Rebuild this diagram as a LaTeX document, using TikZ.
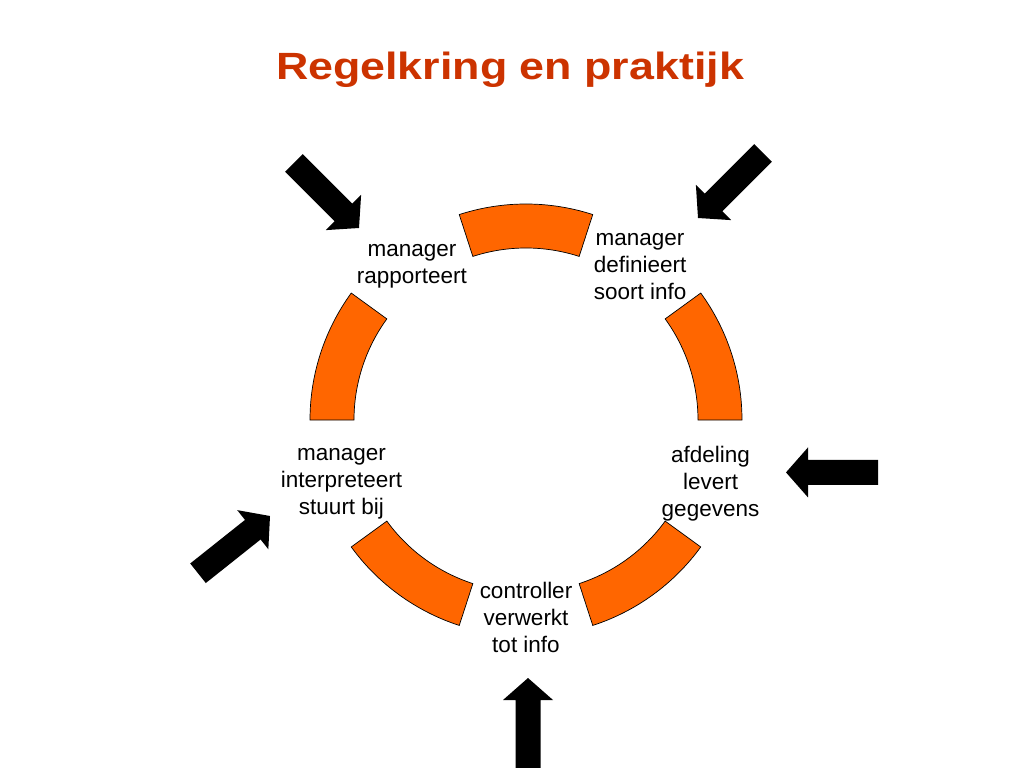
\documentclass[tikz,border=0pt]{standalone}
\usepackage{fontspec}
\setmainfont{Liberation Sans}
\newfontfamily\titlefont[FakeStretch=1.18]{Liberation Sans}
\usepackage{tikz}
\usetikzlibrary{positioning}
\usepackage{xcolor}
\definecolor{ringorange}{RGB}{255,102,  0}
\definecolor{titlered}  {RGB}{204, 51,  0}

\newcommand{\inarrow}[2]{%
  \fill[blockarrow, shift={#1}, rotate=#2] (0,0) -- (-0.55,0.625) -- (-0.55,0.3125) -- (-2.3,0.3125)
    -- (-2.3,-0.3125) -- (-0.55,-0.3125) -- (-0.55,-0.625) -- cycle;}

\begin{document}
\begin{tikzpicture}[
  every node/.style={align=center},
  title/.style={font=\titlefont\fontsize{27}{32}\selectfont\bfseries, text=titlered, anchor=base},
  lbl/.style={font=\fontsize{16}{19.3}\selectfont, inner sep=1pt, yshift=-0.09cm},
  segment/.style={draw=black, line width=0.5pt, fill=ringorange},
  blockarrow/.style={black}
]
  \useasboundingbox (0,0) rectangle (25.6,-19.2);
  \coordinate (c) at (13.15,-10.5);

  % Title
  \node (titel) [title] at (12.75,-2.0) {Regelkring en praktijk};

  % Ring segments
  \foreach \a in {0,72,...,288}
    \draw [segment] ([shift={(\a:5.4)}]c) arc[start angle=\a, end angle=\a+36, radius=5.4]
      -- ([shift={(\a+36:4.3)}]c) arc[start angle=\a+36, end angle=\a, radius=4.3] -- cycle;

  % Labels
  \node (def) [lbl] at ([shift={(54:4.85)}]c)  {manager\\definieert\\soort info};
  \node (rap) [lbl] at ([shift={(126:4.85)}]c) {manager\\rapporteert};
  \node (stu) [lbl] at ([shift={(198:4.85)}]c) {manager\\interpreteert\\stuurt bij};
  \node (ver) [lbl] at ([shift={(270:4.85)}]c) {controller\\verwerkt\\tot info};
  \node (lev) [lbl] at ([shift={(342:4.85)}]c) {afdeling\\levert\\gegevens};

  % Arrows
  \foreach \tip/\dir in {{(8.975,-5.7)}/-45, {(17.45,-5.45)}/-135, {(19.65,-11.81)}/180,
                         {(6.75,-12.9)}/38.5, {(13.2,-16.95)}/90}
    \inarrow{\tip}{\dir};
\end{tikzpicture}
\end{document}
